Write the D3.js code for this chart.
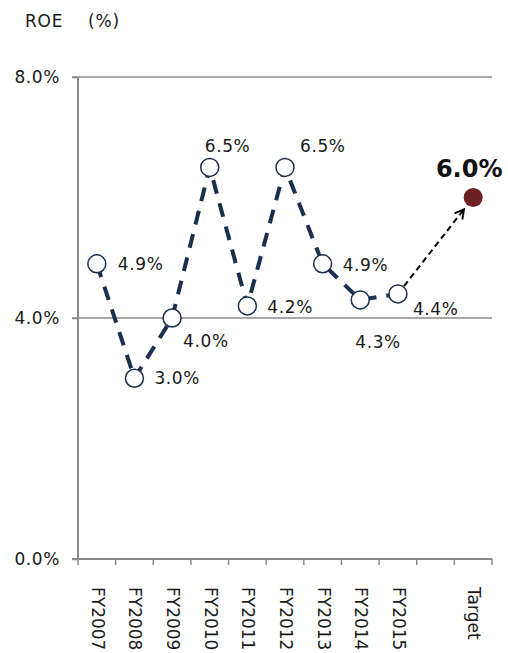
<!DOCTYPE html>
<html>
<head>
<meta charset="utf-8">
<script src="https://cdn.jsdelivr.net/npm/d3@7"></script>
<style>
  html, body { margin: 0; padding: 0; background: #fff; }
  svg { display: block; }
  text { font-family: "DejaVu Sans", Verdana, sans-serif; }
</style>
</head>
<body>
<svg id="chart" width="508" height="653"></svg>
<script>
// ---- data ----
const categories = ["FY2007","FY2008","FY2009","FY2010","FY2011","FY2012","FY2013","FY2014","FY2015"];
const roeValues = [4.9, 3.0, 4.0, 6.5, 4.2, 6.5, 4.9, 4.3, 4.4];
const targetLabel = "Target";
const targetValue = 6.0;
const yTicks = [0, 4, 8];

// ---- layout / styles ----
const plot = { left: 78, right: 492, top: 77, bottom: 559 };
const navy = "#1b2f4e";
const grey = "#8a8a8a";
const textColor = "#1a1a1a";
// label offsets (dx, dy) relative to each point
const labelOffsets = [[21,6],[20,6],[11,29],[-5,-15],[20,7],[15,-15],[20,7],[-5,48],[15,21]];

const svg = d3.select("#chart");

const domain = [...categories, "__gap__", targetLabel];
const x = d3.scaleBand().domain(domain).range([plot.left, plot.right]).padding(0);
const y = d3.scaleLinear().domain([0, 8]).range([plot.bottom, plot.top]);
const cx = c => x(c) + x.bandwidth() / 2;

// title
const title = svg.append("text").attr("x", 25).attr("y", 27)
  .attr("font-size", 17).attr("fill", textColor).attr("letter-spacing", 0.8);
title.append("tspan").attr("x", 25).text("ROE");
title.append("tspan").attr("x", 88).text("(%)");

// gridlines (non-zero)
svg.append("g").selectAll("line").data(yTicks.filter(t => t > 0)).join("line")
  .attr("x1", plot.left - 6).attr("x2", plot.right)
  .attr("y1", d => y(d)).attr("y2", d => y(d))
  .attr("stroke", grey).attr("stroke-width", 1.5);

// y axis
const yAxis = d3.axisLeft(y).tickValues(yTicks).tickSize(6).tickPadding(12)
  .tickFormat(d => d3.format(".1f")(d) + "%");
const gy = svg.append("g").attr("transform", `translate(${plot.left},0)`).call(yAxis);
gy.select(".domain").attr("stroke", grey).attr("stroke-width", 2).attr("d", `M0,${plot.top}V${plot.bottom}`);
gy.selectAll(".tick line").attr("stroke", grey).attr("stroke-width", 1.5);
gy.selectAll(".tick text").attr("font-size", 17).attr("fill", textColor)
  .attr("font-family", "DejaVu Sans, Verdana, sans-serif").attr("letter-spacing", 0.6);

// x axis line
svg.append("line").attr("x1", plot.left - 6).attr("x2", plot.right)
  .attr("y1", plot.bottom).attr("y2", plot.bottom)
  .attr("stroke", grey).attr("stroke-width", 2);
// x ticks at band boundaries
const boundaries = domain.map(d => x(d)).concat([plot.right]);
svg.append("g").selectAll("line").data(boundaries).join("line")
  .attr("x1", d => d).attr("x2", d => d)
  .attr("y1", plot.bottom).attr("y2", plot.bottom + 6)
  .attr("stroke", grey).attr("stroke-width", 1.5);

// x labels (rotated, reading top-to-bottom)
svg.append("g").selectAll("text").data(domain.filter(d => d !== "__gap__")).join("text")
  .attr("transform", d => `translate(${cx(d) - 5},${plot.bottom + 28}) rotate(90)`)
  .attr("font-size", 17).attr("fill", textColor)
  .text(d => d);

// data points
const pts = categories.map((c, i) => ({ c, v: roeValues[i], x: cx(c), y: y(roeValues[i]) }));

// dashed line
svg.append("path").datum(pts)
  .attr("d", d3.line().x(d => d.x).y(d => d.y))
  .attr("fill", "none").attr("stroke", navy).attr("stroke-width", 4)
  .attr("stroke-dasharray", "14,10");

// arrow to target
const defs = svg.append("defs");
defs.append("marker").attr("id", "arr").attr("viewBox", "0 0 12 12")
  .attr("refX", 10).attr("refY", 6).attr("markerWidth", 12).attr("markerHeight", 12)
  .attr("markerUnits", "userSpaceOnUse").attr("orient", "auto")
  .append("path").attr("d", "M1,1 L10,6 L1,11").attr("fill", "none")
  .attr("stroke", "#000").attr("stroke-width", 2);

const last = pts[pts.length - 1];
const tx = cx(targetLabel), ty = y(targetValue);
const dx = tx - last.x, dy = ty - last.y, len = Math.hypot(dx, dy);
const ux = dx / len, uy = dy / len;
svg.append("line")
  .attr("x1", last.x + ux * 10).attr("y1", last.y + uy * 10)
  .attr("x2", tx - ux * 15).attr("y2", ty - uy * 15)
  .attr("stroke", "#000").attr("stroke-width", 2).attr("stroke-dasharray", "6,4")
  .attr("marker-end", "url(#arr)");

// circles
svg.append("g").selectAll("circle").data(pts).join("circle")
  .attr("cx", d => d.x).attr("cy", d => d.y).attr("r", 9)
  .attr("fill", "#fff").attr("stroke", navy).attr("stroke-width", 1.5);

// target point
svg.append("circle").attr("cx", tx).attr("cy", ty).attr("r", 9.5).attr("fill", "#6b1f20");

// value labels
svg.append("g").selectAll("text").data(pts).join("text")
  .attr("x", (d, i) => d.x + labelOffsets[i][0])
  .attr("y", (d, i) => d.y + labelOffsets[i][1])
  .attr("font-size", 17).attr("fill", textColor).attr("letter-spacing", 0.6)
  .text(d => d3.format(".1f")(d.v) + "%");

svg.append("text").attr("x", tx - 4).attr("y", ty - 21)
  .attr("text-anchor", "middle").attr("font-size", 24).attr("font-weight", "bold")
  .attr("fill", "#111").text(d3.format(".1f")(targetValue) + "%");
</script>
</body>
</html>
